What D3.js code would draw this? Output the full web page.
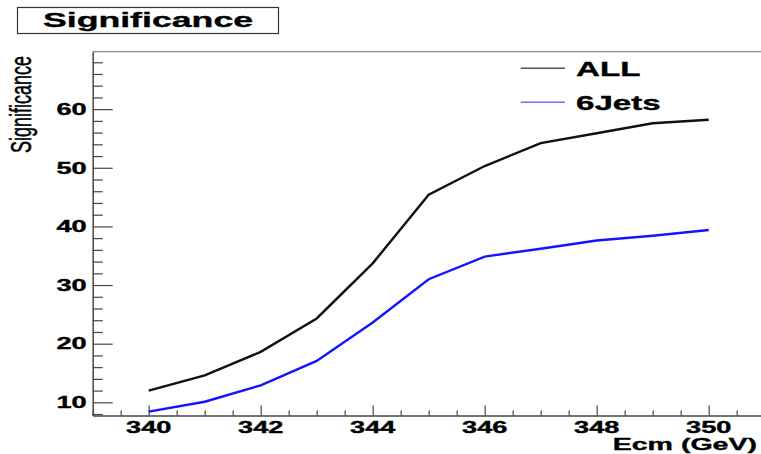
<!DOCTYPE html>
<html><head><meta charset="utf-8">
<script src="https://cdn.jsdelivr.net/npm/d3@7"></script>
<style>body{margin:0;background:#fff}svg{display:block}</style></head>
<body>
<script>
// ---- data ----
const energies = [340, 341, 342, 343, 344, 345, 346, 347, 348, 349, 350];
const allSig   = [12.0, 14.6, 18.6, 24.3, 33.7, 45.4, 50.3, 54.2, 55.9, 57.6, 58.2];
const jets6Sig = [8.4, 10.1, 12.9, 17.05, 23.6, 31.0, 34.85, 36.2, 37.6, 38.4, 39.4];
const xMajorTicks = [340, 342, 344, 346, 348, 350];
const yMajorTicks = [10, 20, 30, 40, 50, 60];
const seriesNames = ["ALL", "6Jets"];
const titleText = "Significance";
const xTitle = "Ecm (GeV)";
const yTitle = "Significance";

// ---- layout ----
const W = 761, H = 454, SX = 1.7;
const FONT = "'Liberation Sans', Arial, Helvetica, sans-serif";
const svg = d3.select("body").append("svg").attr("width", W).attr("height", H);
svg.append("rect").attr("width", W).attr("height", H).attr("fill", "#fff");

const x = d3.scaleLinear().domain([339, 351]).range([92.7, 764.7]);
const y = d3.scaleLinear().domain([7.75, 69.8]).range([415.5, 51.7]);

function sText(str, px, py, size, weight, anchor, sx) {
  return svg.append("text")
    .attr("transform", `translate(${px},${py}) scale(${sx || SX},1)`)
    .attr("text-anchor", anchor)
    .style("font-family", FONT).style("font-weight", weight)
    .style("font-size", size + "px").attr("fill", "#000")
    .attr("stroke", "#000").attr("stroke-width", 0.35)
    .text(str);
}

// frame top line
svg.append("line").attr("x1", x.range()[0]).attr("x2", W).attr("y1", y.range()[1]).attr("y2", y.range()[1])
  .attr("stroke", "#8a8a8a").attr("stroke-width", 1.2);

// minor ticks
const xMinor = d3.range(339, 351.01, 0.5).filter(v => !xMajorTicks.includes(v));
const yMinor = d3.range(8, 69.9, 2).filter(v => !yMajorTicks.includes(v));

const gx = svg.append("g").attr("transform", `translate(0,${y.range()[0]})`);
gx.call(d3.axisBottom(x).tickValues(xMajorTicks).tickSizeInner(-10).tickSizeOuter(0).tickFormat(""));
const gxm = svg.append("g").attr("transform", `translate(0,${y.range()[0]})`);
gxm.call(d3.axisBottom(x).tickValues(xMinor).tickSizeInner(-5).tickSizeOuter(0).tickFormat(""));
gxm.select(".domain").remove();

const gy = svg.append("g").attr("transform", `translate(${x.range()[0]},0)`);
gy.call(d3.axisLeft(y).tickValues(yMajorTicks).tickSizeInner(-20).tickSizeOuter(0).tickFormat(""));
const gym = svg.append("g").attr("transform", `translate(${x.range()[0]},0)`);
gym.call(d3.axisLeft(y).tickValues(yMinor).tickSizeInner(-10).tickSizeOuter(0).tickFormat(""));
gym.select(".domain").remove();

svg.selectAll(".domain").attr("stroke", "#444").attr("stroke-width", 1.5);
svg.selectAll(".tick line").attr("stroke", "#444").attr("stroke-width", 1.2);

// tick labels
xMajorTicks.forEach(v => sText(String(v), x(v), 433, 16, "bold", "middle"));
yMajorTicks.forEach(v => sText(String(v), 86.7, y(v) + 5.8, 16, "bold", "end"));

// axis titles
sText(xTitle, 757, 450, 16.8, "bold", "end");
svg.append("text")
  .attr("transform", `translate(30.5,153) scale(1.65,1) rotate(-90)`)
  .attr("text-anchor", "start")
  .style("font-family", FONT).style("font-size", "18px")
  .attr("stroke", "#000").attr("stroke-width", 0.3)
  .text(yTitle);

// title box
svg.append("rect").attr("x", 17.5).attr("y", 7.5).attr("width", 261).attr("height", 26)
  .attr("fill", "#fff").attr("stroke", "#333").attr("stroke-width", 1.2);
sText(titleText, 148, 27, 21, "bold", "middle");

// series
const line = d3.line().x((d, i) => x(energies[i])).y(d => y(d));
svg.append("path").datum(allSig).attr("d", line).attr("fill", "none")
  .attr("stroke", "#111").attr("stroke-width", 2.4);
svg.append("path").datum(jets6Sig).attr("d", line).attr("fill", "none")
  .attr("stroke", "#1414ff").attr("stroke-width", 2.4);

// legend
const legColors = ["#555", "#6f6fff"];
const legY = [68.3, 102.3];
seriesNames.forEach((n, i) => {
  svg.append("line").attr("x1", 520.7).attr("x2", 565).attr("y1", legY[i]).attr("y2", legY[i])
    .attr("stroke", legColors[i]).attr("stroke-width", 1.6);
  sText(n, 576, legY[i] + 7.8, 19.5, "bold", "start");
});
</script>
</body></html>
